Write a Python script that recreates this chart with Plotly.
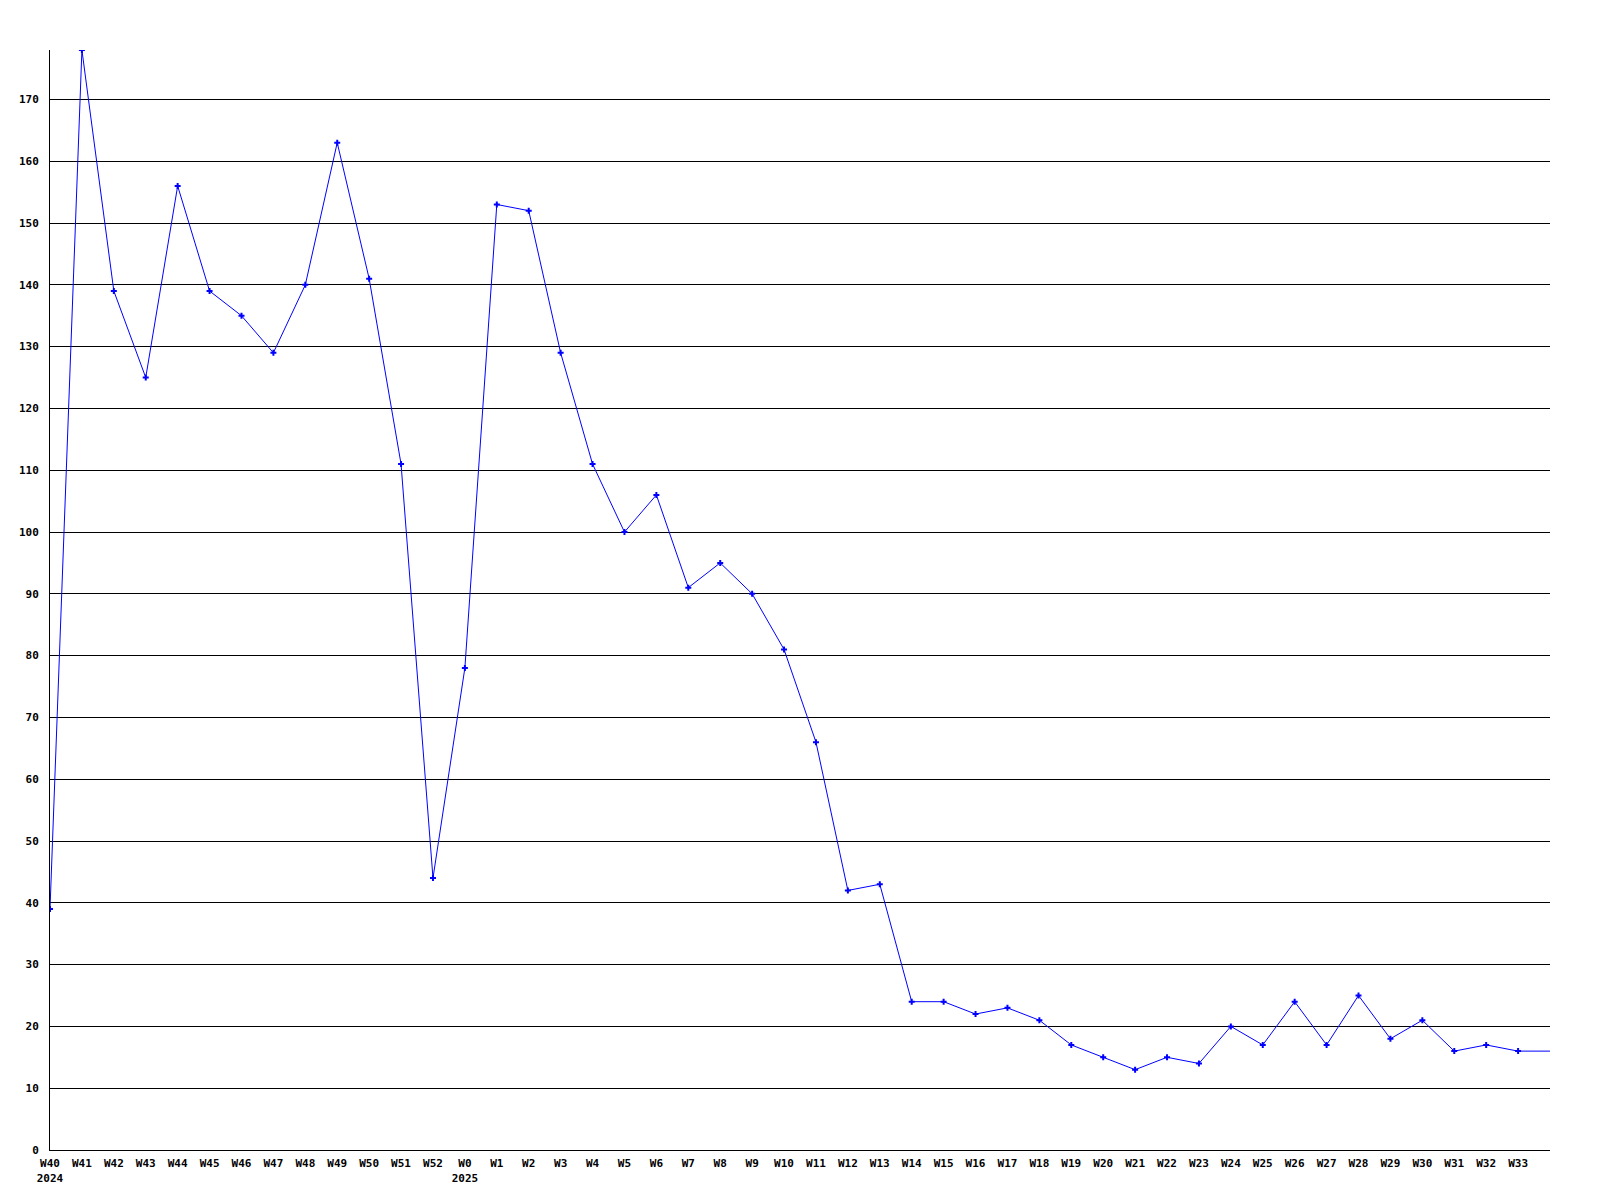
import plotly.graph_objects as go

weeks = ["W40<br>2024", "W41", "W42", "W43", "W44", "W45", "W46", "W47", "W48", "W49",
         "W50", "W51", "W52", "W0<br>2025", "W1", "W2", "W3", "W4", "W5", "W6", "W7",
         "W8", "W9", "W10", "W11", "W12", "W13", "W14", "W15", "W16", "W17", "W18",
         "W19", "W20", "W21", "W22", "W23", "W24", "W25", "W26", "W27", "W28", "W29",
         "W30", "W31", "W32", "W33"]
values = [39, 178, 139, 125, 156, 139, 135, 129, 140, 163, 141, 111, 44, 78, 153, 152,
          129, 111, 100, 106, 91, 95, 90, 81, 66, 42, 43, 24, 24, 22, 23, 21, 17, 15,
          13, 15, 14, 20, 17, 24, 17, 25, 18, 21, 16, 17, 16]
# line continues flat to the right edge after the last week
tail_value = 16

x_idx = list(range(len(weeks)))
line_x = x_idx + [len(weeks)]
line_y = values + [tail_value]

font = dict(family="DejaVu Sans Mono", size=11, color="black", weight="bold")

fig = go.Figure()
fig.add_trace(go.Scatter(x=line_x, y=line_y, mode="lines",
                         line=dict(color="#0000ff", width=1), hoverinfo="skip"))
fig.add_trace(go.Scatter(x=x_idx, y=values, mode="markers",
                         marker=dict(color="#0000ff", symbol="cross", size=5)))

fig.update_layout(
    width=1584, height=1184,
    margin=dict(l=42, r=42, t=42, b=42),
    paper_bgcolor="white", plot_bgcolor="white",
    showlegend=False,
    font=font,
)
fig.update_xaxes(range=[0, len(weeks)], tickvals=x_idx, ticktext=weeks,
                 showgrid=False, zeroline=False, showline=True, linecolor="black",
                 linewidth=1, ticks="", tickfont=font, tickangle=0,
                 ticklabelstandoff=3, automargin=False)
fig.update_yaxes(range=[0, 178], dtick=10, tick0=0, showgrid=True, gridcolor="black",
                 gridwidth=1, zeroline=False, showline=True, linecolor="black",
                 linewidth=1, ticks="", tickfont=font, ticklabelstandoff=8,
                 automargin=False)

fig.write_html("out.html")
